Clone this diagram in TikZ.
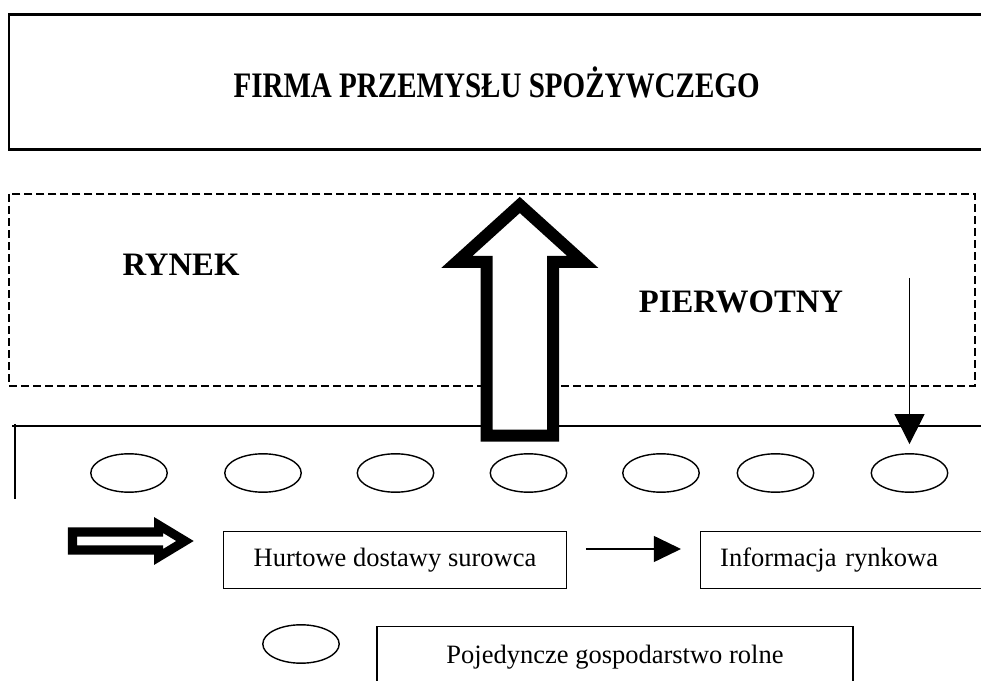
\documentclass[tikz,border=0pt]{standalone}
\usepackage{fontspec}
\setmainfont{Liberation Serif}
\newfontfamily\titlefont[FakeStretch=0.81]{Liberation Serif}
\usetikzlibrary{arrows.meta,shapes.geometric}
\tikzset{
  textbox/.style={draw,line width=0.9pt,minimum height=1.42cm,inner sep=0pt,
    font=\fontsize{18.85}{22}\selectfont},
  bigword/.style={inner sep=0pt,font=\fontsize{23.26}{28}\selectfont\bfseries},
  farm/.style={draw,ellipse,line width=1pt,minimum width=1.91cm,
    minimum height=0.96cm,inner sep=0pt},
  hollow/.style={draw,fill=white,line join=miter},
  infoarrow/.style={line width=1pt,-{Triangle[length=0.75cm,width=0.75cm]}},
  flowarrow/.style={line width=1pt,-{Triangle[length=0.68cm,width=0.65cm]}},
}
\begin{document}
\begin{tikzpicture}[x=0.025cm,y=-0.025cm]
  \useasboundingbox (0,0) rectangle (981,681);
  % Food industry firm
  \node[draw,line width=1.8pt,minimum width=24.37cm,minimum height=3.375cm,
    font=\titlefont\fontsize{25.5}{30}\selectfont\bfseries] (firma) at (496.6,82)
    {FIRMA PRZEMYSŁU SPOŻYWCZEGO};
  % Primary market
  \draw[line width=1.05pt,dash pattern=on 0.2cm off 0.1cm] (9,194) rectangle (975,386);
  \node[bigword] (rynek) at (181,265) {RYNEK};
  \node[bigword] (pierwotny) at (741,302) {PIERWOTNY};
  % Farms
  \draw[line width=1.05pt] (12,426) -- (985,426);
  \draw[line width=1.05pt] (15,424) -- (15,499);
  \foreach \x [count=\i] in {129,263,395.5,528.5,661,775.5,909.5}
    \node[farm] (farm\i) at (\x,473) {};
  % Bulk supply of raw material
  \draw[hollow,line width=0.3cm] (519.8,205) -- (582.8,262) -- (553,262) -- (553,435.7)
    -- (486.7,435.7) -- (486.7,262) -- (456.8,262) -- cycle;
  % Market information
  \coordinate (infotop) at (909.5,278);
  \draw[infoarrow,shorten >=0.225cm] (infotop) -- (farm7.north);
  % Legend
  \draw[hollow,line width=0.225cm] (72.5,532) -- (158.5,532) -- (158.5,525) -- (185,541)
    -- (158.5,557) -- (158.5,550) -- (72.5,550) -- cycle;
  \node[textbox,minimum width=8.57cm] (hurtowe) at (395,560) {Hurtowe dostawy surowca};
  \node[textbox,anchor=west,text width=7.25cm,inner xsep=0.5cm,align=left]
    (informacja) at (699.6,560) {Informacja rynkowa};
  \draw[flowarrow,shorten <=0.47cm,shorten >=0.465cm]
    ([yshift=0.275cm]hurtowe.east) -- ([yshift=0.275cm]informacja.west);
  \node[farm] (legfarm) at (301,644) {};
  \node[textbox,anchor=north,minimum width=11.9cm,inner ysep=0.475cm]
    (legend) at (615,625.6) {Pojedyncze gospodarstwo rolne};
\end{tikzpicture}
\end{document}
